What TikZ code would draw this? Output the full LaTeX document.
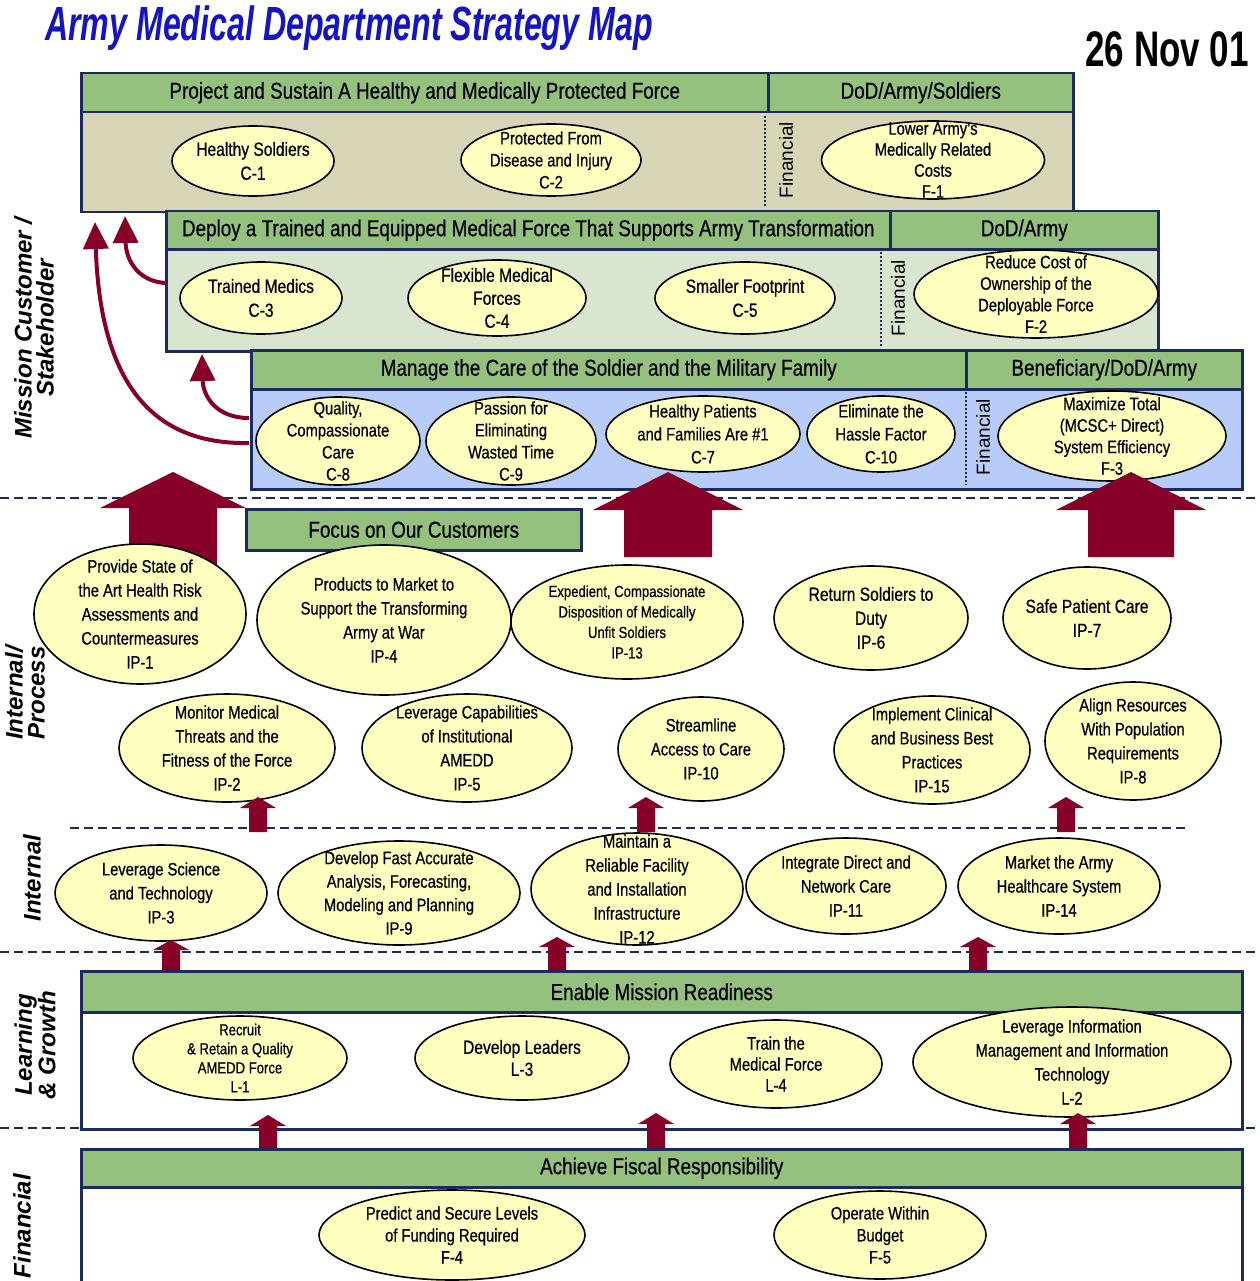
\documentclass[tikz,border=0pt]{standalone}
\usepackage{fontspec}
\setmainfont{Liberation Sans}
\newfontfamily\nf[FakeStretch=0.82,FakeBold=0.6]{Liberation Sans}
\newfontfamily\tf[FakeStretch=0.67]{Liberation Sans}
\newfontfamily\df[FakeStretch=0.70]{Liberation Sans}
\usetikzlibrary{shapes.geometric,arrows.meta}
\definecolor{hdrgreen}{RGB}{148,193,126}
\definecolor{tanfill}{RGB}{216,212,182}
\definecolor{lgreen}{RGB}{216,230,208}
\definecolor{lblue}{RGB}{184,204,250}
\definecolor{ellfill}{RGB}{255,255,192}
\definecolor{navy}{RGB}{28,42,96}
\definecolor{maroon}{RGB}{134,0,40}
\definecolor{titleblue}{RGB}{20,20,196}
\newcommand\blkup[6]{%
\fill[maroon] ({#1-#6},#4) -- ({#1-#6},#3) -- ({#1-#5},#3) -- (#1,#2) -- ({#1+#5},#3) -- ({#1+#6},#3) -- ({#1+#6},#4) -- cycle;}
\begin{document}
\begin{tikzpicture}[x=1pt,y=-1pt,
  boxst/.style={draw=navy, line width=2.5pt, inner sep=0pt, anchor=north west},
  hdr/.style={boxst, fill=hdrgreen, font=\nf\fontsize{23}{25}\selectfont},
  ell/.style={ellipse, draw=black, line width=1.6pt, fill=ellfill, inner sep=0pt},
  et/.style={align=center, inner sep=0pt, font=\nf\fontsize{18}{22}\selectfont},
  side/.style={font=\bfseries\itshape\fontsize{24}{22}\selectfont, align=center, inner sep=0pt, rotate=90},
  fin/.style={font=\fontsize{19}{20}\selectfont, inner sep=0pt, rotate=90},
  sepline/.style={draw=navy, line width=2.5pt, dash pattern=on 9pt off 5pt},
  dotline/.style={draw=navy, line width=1.6pt, dash pattern=on 2pt off 2pt},
  curv/.style={draw=maroon, line width=4pt, -{Triangle[width=25pt,length=27pt]}}
]
\useasboundingbox (0,0) rectangle (1259,1281);

% title and date
\node[anchor=west, inner sep=0pt, font=\tf\bfseries\itshape\fontsize{48}{48}\selectfont, text=titleblue] (title) at (45,28) {Army Medical Department Strategy Map};
\node[anchor=east, inner sep=0pt, font=\df\bfseries\fontsize{50}{50}\selectfont] (date) at (1249,49) {26 Nov 01};

% side labels
\node[side] (s1) at (34,328) {Mission Customer /\\Stakeholder};
\node[side] (s2) at (25,693) {Internal/\\Process};
\node[side] (s3) at (32,878) {Internal};
\node[side] (s4) at (35,1045) {Learning\\\& Growth};
\node[side] (s5) at (22,1226) {Financial};

% box 1
\node[boxst, fill=tanfill, minimum width=992, minimum height=139] (b1) at (80,72) {};
\node[hdr, minimum width=687, minimum height=39] (h1a) at (80,72) {Project and Sustain A Healthy and Medically Protected Force};
\node[hdr, minimum width=305, minimum height=39] (h1b) at (767,72) {DoD/Army/Soldiers};
\draw[dotline] (765,116) -- (765,206);
\node[fin] (fin1) at (786,160) {Financial};
\node[ell, minimum width=162, minimum height=70, label={[et, font=\nf\fontsize{19}{24}\selectfont]center:{Healthy Soldiers\\C-1}}] (c1) at (253,161) {};
\node[ell, minimum width=180, minimum height=72, label={[et]center:{Protected From\\Disease and Injury\\C-2}}] (c2) at (551,160) {};
\node[ell, minimum width=223, minimum height=78, label={[et, font=\nf\fontsize{18}{21}\selectfont]center:{Lower Army’s\\Medically Related\\Costs\\F-1}}] (f1) at (933,160) {};

% box 2
\node[boxst, fill=lgreen, minimum width=992, minimum height=140] (b2) at (165,210) {};
\node[hdr, minimum width=724, minimum height=38] (h2a) at (165,210) {Deploy a Trained and Equipped Medical Force That Supports Army Transformation};
\node[hdr, minimum width=268, minimum height=38] (h2b) at (889,210) {DoD/Army};
\draw[dotline] (881,252) -- (881,346);
\node[fin] (fin2) at (898,298) {Financial};
\node[ell, minimum width=162, minimum height=72, label={[et, font=\nf\fontsize{19}{24}\selectfont]center:{Trained Medics\\C-3}}] (c3) at (261,298) {};
\node[ell, minimum width=178, minimum height=76, label={[et, font=\nf\fontsize{19}{23}\selectfont]center:{Flexible Medical\\Forces\\C-4}}] (c4) at (497,298) {};
\node[ell, minimum width=180, minimum height=72, label={[et, font=\nf\fontsize{19}{24}\selectfont]center:{Smaller Footprint\\C-5}}] (c5) at (745,298) {};
\node[ell, minimum width=244, minimum height=88, label={[et, font=\nf\fontsize{18}{21.5}\selectfont]center:{Reduce Cost of\\Ownership of the\\Deployable Force\\F-2}}] (f2) at (1036,294) {};

% box 3
\node[boxst, fill=lblue, minimum width=991, minimum height=139] (b3) at (250,349) {};
\node[hdr, minimum width=715, minimum height=39] (h3a) at (250,349) {Manage the Care of the Soldier and the Military Family};
\node[hdr, minimum width=276, minimum height=39] (h3b) at (965,349) {Beneficiary/DoD/Army};
\draw[dotline] (966,392) -- (966,485);
\node[fin] (fin3) at (983,437) {Financial};
\node[ell, minimum width=164, minimum height=88, label={[et]center:{Quality,\\Compassionate\\Care\\C-8}}] (c8) at (338,441) {};
\node[ell, minimum width=170, minimum height=88, label={[et]center:{Passion for\\Eliminating\\Wasted Time\\C-9}}] (c9) at (511,441) {};
\node[ell, minimum width=194, minimum height=76, label={[et, font=\nf\fontsize{18}{23}\selectfont]center:{Healthy Patients\\and Families Are \#1\\C-7}}] (c7) at (703,434) {};
\node[ell, minimum width=148, minimum height=76, label={[et, font=\nf\fontsize{18}{23}\selectfont]center:{Eliminate the\\Hassle Factor\\C-10}}] (c10) at (881,434) {};
\node[ell, minimum width=228, minimum height=90, label={[et, font=\nf\fontsize{18}{21.5}\selectfont]center:{Maximize Total\\(MCSC+ Direct)\\System Efficiency\\F-3}}] (f3) at (1112,436) {};

% curved arrows
\coordinate (a1s) at (166,283); \coordinate (a1e) at (125,216);
\coordinate (a2s) at (249,443); \coordinate (a2e) at (95,222);
\coordinate (a3s) at (249,418); \coordinate (a3e) at (202,354);
\draw[curv] (a1s) .. controls (140,282) and (126,262) .. (a1e);
\draw[curv] (a2s) .. controls (150,445) and (100,380) .. (a2e);
\draw[curv] (a3s) .. controls (215,418) and (203,395) .. (a3e);

% separators
\draw[sepline] (0,498) -- (1259,498);
\draw[sepline] (70,828) -- (1185,828);
\draw[sepline] (0,952) -- (1259,952);
\draw[sepline] (0,1128) -- (1259,1128);

% big arrows
\blkup{173}{472}{508}{565}{73}{44}
\blkup{668}{472}{510}{557}{75}{44}
\blkup{1131}{472}{510}{557}{75}{43}

\node[hdr, minimum width=335, minimum height=41] (focus) at (245,508) {Focus on Our Customers};

% internal process row 1
\node[ell, minimum width=212, minimum height=140, label={[et, font=\nf\fontsize{18}{24}\selectfont]center:{Provide State of\\the Art Health Risk\\Assessments and\\Countermeasures\\IP-1}}] (ip1) at (140,614) {};
\node[ell, minimum width=254, minimum height=150, label={[et, font=\nf\fontsize{18}{24}\selectfont]center:{Products to Market to\\Support the Transforming\\Army at War\\IP-4}}] (ip4) at (384,620) {};
\node[ell, minimum width=232, minimum height=114, label={[et, font=\nf\fontsize{16}{20.5}\selectfont]center:{Expedient, Compassionate\\Disposition of Medically\\Unfit Soldiers\\IP-13}}] (ip13) at (627,622) {};
\node[ell, minimum width=194, minimum height=104, label={[et, font=\nf\fontsize{19}{24}\selectfont]center:{Return Soldiers to\\Duty\\IP-6}}] (ip6) at (871,618) {};
\node[ell, minimum width=168, minimum height=102, label={[et, font=\nf\fontsize{19}{24}\selectfont]center:{Safe Patient Care\\IP-7}}] (ip7) at (1087,618) {};

% internal process row 2
\node[ell, minimum width=216, minimum height=108, label={[et, font=\nf\fontsize{18}{24}\selectfont]center:{Monitor Medical\\Threats and the\\Fitness of the Force\\IP-2}}] (ip2) at (227,748) {};
\node[ell, minimum width=210, minimum height=108, label={[et, font=\nf\fontsize{18}{24}\selectfont]center:{Leverage Capabilities\\of Institutional\\AMEDD\\IP-5}}] (ip5) at (467,748) {};
\node[ell, minimum width=166, minimum height=104, label={[et, font=\nf\fontsize{18}{24}\selectfont]center:{Streamline\\Access to Care\\IP-10}}] (ip10) at (701,749) {};
\node[ell, minimum width=196, minimum height=108, label={[et, font=\nf\fontsize{18}{24}\selectfont]center:{Implement Clinical\\and Business Best\\Practices\\IP-15}}] (ip15) at (932,750) {};
\node[ell, minimum width=176, minimum height=118, label={[et, font=\nf\fontsize{18}{24}\selectfont]center:{Align Resources\\With Population\\Requirements\\IP-8}}] (ip8) at (1133,741) {};

% internal row
\node[ell, minimum width=212, minimum height=96, label={[et, font=\nf\fontsize{18}{24}\selectfont]center:{Leverage Science\\and Technology\\IP-3}}] (ip3) at (161,893) {};
\node[ell, minimum width=242, minimum height=104, label={[et, font=\nf\fontsize{18}{23.5}\selectfont]center:{Develop Fast Accurate\\Analysis, Forecasting,\\Modeling and Planning\\IP-9}}] (ip9) at (399,893) {};
\node[ell, minimum width=212, minimum height=112, label={[et, font=\nf\fontsize{18}{24}\selectfont]center:{Maintain a\\Reliable Facility\\and Installation\\Infrastructure\\IP-12}}] (ip12) at (637,889) {};
\node[ell, minimum width=200, minimum height=96, label={[et, font=\nf\fontsize{18}{24}\selectfont]center:{Integrate Direct and\\Network Care\\IP-11}}] (ip11) at (846,886) {};
\node[ell, minimum width=202, minimum height=96, label={[et, font=\nf\fontsize{18}{24}\selectfont]center:{Market the Army\\Healthcare System\\IP-14}}] (ip14) at (1059,886) {};

\blkup{258}{797}{808}{832}{18}{9}
\blkup{646}{797}{808}{832}{18}{9}
\blkup{1066}{797}{808}{832}{18}{9}

% learning and growth box
\node[boxst, fill=white, minimum width=1161, minimum height=158] (bl) at (80,970) {};
\node[hdr, minimum width=1161, minimum height=41] (hl) at (80,970) {Enable Mission Readiness};
\node[ell, minimum width=214, minimum height=84, label={[et, font=\nf\fontsize{16}{19}\selectfont]center:{Recruit\\\& Retain a Quality\\AMEDD Force\\L-1}}] (l1) at (240,1058) {};
\node[ell, minimum width=214, minimum height=84, label={[et, font=\nf\fontsize{19}{22}\selectfont]center:{Develop Leaders\\L-3}}] (l3) at (522,1058) {};
\node[ell, minimum width=212, minimum height=88, label={[et, font=\nf\fontsize{18}{21}\selectfont]center:{Train the\\Medical Force\\L-4}}] (l4) at (776,1064) {};
\node[ell, minimum width=318, minimum height=110, label={[et, font=\nf\fontsize{18}{24}\selectfont]center:{Leverage Information\\Management and Information\\Technology\\L-2}}] (l2) at (1072,1062) {};

\blkup{171}{940}{950}{970}{18}{9}
\blkup{557}{937}{947}{970}{18}{9}
\blkup{978}{937}{947}{970}{18}{9}

% financial box
\node[boxst, fill=white, minimum width=1161, minimum height=140] (bf) at (80,1148) {};
\node[hdr, minimum width=1161, minimum height=38] (hf) at (80,1148) {Achieve Fiscal Responsibility};
\node[ell, minimum width=266, minimum height=90, label={[et]center:{Predict and Secure Levels\\of Funding Required\\F-4}}] (f4) at (452,1235) {};
\node[ell, minimum width=212, minimum height=88, label={[et]center:{Operate Within\\Budget\\F-5}}] (f5) at (880,1235) {};

\blkup{268}{1115}{1126}{1148}{18}{9}
\blkup{656}{1113}{1124}{1148}{18}{9}
\blkup{1078}{1113}{1124}{1148}{18}{9}
\end{tikzpicture}
\end{document}
